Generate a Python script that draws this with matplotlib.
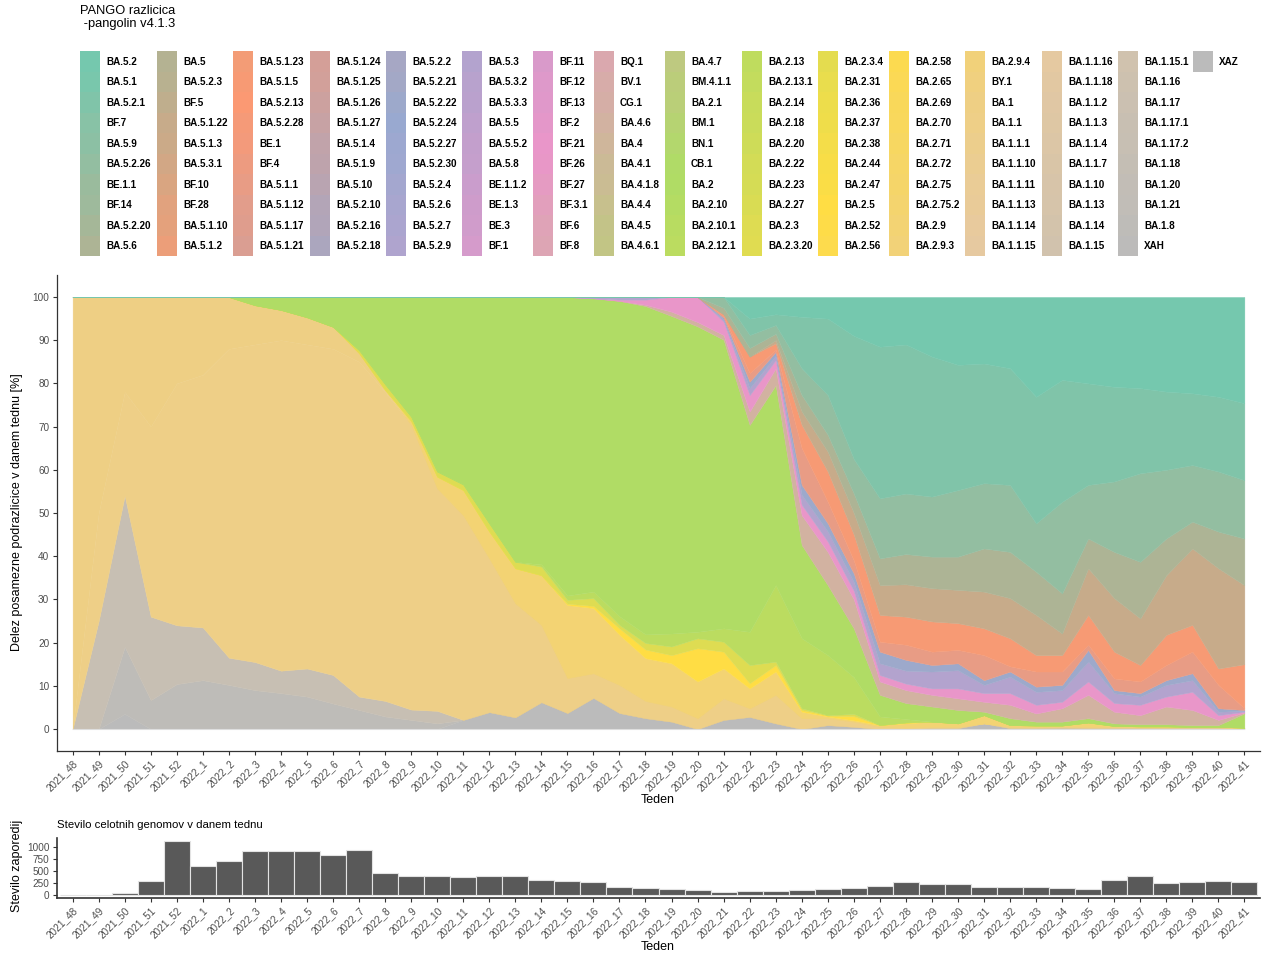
import numpy as np
import matplotlib
matplotlib.use("Agg")
import matplotlib.pyplot as plt
from matplotlib.colors import LinearSegmentedColormap, to_rgb
from matplotlib.patches import Rectangle

plt.rcParams['font.family'] = ['Liberation Sans', 'DejaVu Sans']

W, H = 1263, 956

# tedni (x os)
tedni = [f"2021_{t}" for t in range(48, 53)] + [f"2022_{t}" for t in range(1, 42)]

# stevilo celotnih genomov na teden
stevilo_genomov = [2, 4, 48, 283, 1133, 601, 711, 925, 925, 925,
                   836, 946, 463, 387, 387, 373, 387, 387, 318, 283,
                   262, 173, 138, 131, 97, 62, 76, 76, 97, 117,
                   152, 193, 262, 221, 221, 159, 159, 173, 152, 124,
                   318, 387, 242, 262, 297, 262]

# vrstni red legende (prvi je na vrhu sklada)
razlicice = [
    "BA.5.2", "BA.5.1", "BA.5.2.1", "BF.7", "BA.5.9", "BA.5.2.26", "BE.1.1", "BF.14", "BA.5.2.20", "BA.5.6",
    "BA.5", "BA.5.2.3", "BF.5", "BA.5.1.22", "BA.5.1.3", "BA.5.3.1", "BF.10", "BF.28", "BA.5.1.10", "BA.5.1.2",
    "BA.5.1.23", "BA.5.1.5", "BA.5.2.13", "BA.5.2.28", "BE.1", "BF.4", "BA.5.1.1", "BA.5.1.12", "BA.5.1.17", "BA.5.1.21",
    "BA.5.1.24", "BA.5.1.25", "BA.5.1.26", "BA.5.1.27", "BA.5.1.4", "BA.5.1.9", "BA.5.10", "BA.5.2.10", "BA.5.2.16", "BA.5.2.18",
    "BA.5.2.2", "BA.5.2.21", "BA.5.2.22", "BA.5.2.24", "BA.5.2.27", "BA.5.2.30", "BA.5.2.4", "BA.5.2.6", "BA.5.2.7", "BA.5.2.9",
    "BA.5.3", "BA.5.3.2", "BA.5.3.3", "BA.5.5", "BA.5.5.2", "BA.5.8", "BE.1.1.2", "BE.1.3", "BE.3", "BF.1",
    "BF.11", "BF.12", "BF.13", "BF.2", "BF.21", "BF.26", "BF.27", "BF.3.1", "BF.6", "BF.8",
    "BQ.1", "BV.1", "CG.1", "BA.4.6", "BA.4", "BA.4.1", "BA.4.1.8", "BA.4.4", "BA.4.5", "BA.4.6.1",
    "BA.4.7", "BM.4.1.1", "BA.2.1", "BM.1", "BN.1", "CB.1", "BA.2", "BA.2.10", "BA.2.10.1", "BA.2.12.1",
    "BA.2.13", "BA.2.13.1", "BA.2.14", "BA.2.18", "BA.2.20", "BA.2.22", "BA.2.23", "BA.2.27", "BA.2.3", "BA.2.3.20",
    "BA.2.3.4", "BA.2.31", "BA.2.36", "BA.2.37", "BA.2.38", "BA.2.44", "BA.2.47", "BA.2.5", "BA.2.52", "BA.2.56",
    "BA.2.58", "BA.2.65", "BA.2.69", "BA.2.70", "BA.2.71", "BA.2.72", "BA.2.75", "BA.2.75.2", "BA.2.9", "BA.2.9.3",
    "BA.2.9.4", "BY.1", "BA.1", "BA.1.1", "BA.1.1.1", "BA.1.1.10", "BA.1.1.11", "BA.1.1.13", "BA.1.1.14", "BA.1.1.15",
    "BA.1.1.16", "BA.1.1.18", "BA.1.1.2", "BA.1.1.3", "BA.1.1.4", "BA.1.1.7", "BA.1.10", "BA.1.13", "BA.1.14", "BA.1.15",
    "BA.1.15.1", "BA.1.16", "BA.1.17", "BA.1.17.1", "BA.1.17.2", "BA.1.18", "BA.1.20", "BA.1.21", "BA.1.8", "XAH",
    "XAZ",
]

# delezi [%] vidnih podrazlicic po tednih (ostale ~0)
ba_5_2 = [0] * 26 + [5, 4, 4.6, 5, 9, 11.5, 11, 13.8, 15.7, 15.4, 16.5, 23.1, 19.2, 20,
                     20.8, 21.1, 21.9, 22.3, 23.1, 24.6]
ba_5_2_1 = [0] * 26 + [3.8, 2.5, 11.9, 17.7, 28.5, 35.1, 34.5, 32.4, 29, 27.7, 27, 29.3, 28.2, 23.5,
                       21.9, 19.7, 18.1, 16.6, 17.3, 17.8]
ba_5_2_26 = [0] * 25 + [2.5, 3, 2, 6.2, 9.2, 8, 13.9, 14, 13.9, 15.4, 15.1, 15.5, 11.2, 21.2, 12.4,
                        16.3, 20.5, 15.9, 13.1, 13.9, 13.5]
ba_5_6 = [0] * 25 + [1.5, 2, 1.5, 3.8, 3.9, 4.5, 6.2, 7, 7.3, 7.7, 10, 10.7, 10, 9.3, 6.9,
                     10.7, 13.1, 8.5, 6.2, 8.5, 10.8]
ba_5_1_22 = [0] * 27 + [0.7, 3.1, 4.6, 5, 6.9, 7.5, 7.7, 7.7, 8.5, 9.3, 9.3, 5, 10.8,
                        12.4, 10.8, 13.8, 17.7, 23.2, 18.3]
ba_5_1_5 = [0] * 25 + [0.4, 3.8, 1.5, 5.4, 7, 6, 6.2, 6.5, 7, 6.2, 6.2, 6.5, 3.8, 3.8, 6.9,
                       6.2, 3.8, 7, 6.2, 3.8, 10.2]
ba_5_1_1 = [0] * 25 + [0.4, 2, 0.5, 8.5, 5, 3, 2.3, 3.5, 3.1, 3.1, 5.8, 1.2, 3.5, 3.1, 1.2,
                       2.7, 2.7, 3.5, 5, 5.4, 0.4]
ba_5_2_22 = [0] * 25 + [0.4, 1.5, 0.9, 2.3, 1.9, 2, 2.7, 2.5, 1.5, 1.6, 1.1, 1.2, 1.2, 1.2, 2.7,
                        0.7, 0.8, 1.1, 1.6, 0.8, 0.2]
ba_5_3 = [0] * 20 + [0.3, 0.6, 0.6, 0, 0, 0.5, 1.6, 1, 2.3, 2.3, 2, 2.7, 3, 3.9, 4.2, 1.9, 3.8, 3, 2.7, 4.6,
                     2.3, 1.9, 2.7, 2.7, 0.8, 0.2]
bf_21 = [0] * 21 + [0.3, 1.2, 3.4, 5.8, 3.1, 3.8, 1.9, 2.4, 2.4, 2, 1.5, 1.5, 1.5, 2.3, 2, 2.7, 2, 1.5, 3.1,
                    2, 2.4, 2.3, 4.2, 1.1, 0.2]
ba_4_6 = [0] * 22 + [0.3, 1, 1, 1.1, 3.1, 3.9, 6.9, 7.7, 6.7, 3.1, 3, 2.7, 2.7, 2.3, 3.1, 1.9, 3.1, 5.4,
                     2.7, 2.1, 4.1, 3.5, 1.2, 0.2]
ba_2 = [0, 0, 0, 0, 0, 0, 0, 1.9, 3, 4.7,
        6.9, 12.3, 20.2, 27.7, 40.4, 43.4, 52.4, 61.3, 61.9, 69.1,
        67.9, 73, 76, 73.5, 70.7, 66.8, 47.9, 46.3, 21.6, 16.2,
        11.3, 5, 3.7, 3.5, 3.1, 0.8, 1.6, 0.9, 0.9, 1.0,
        0.6, 0.5, 0.5, 0.4, 0.4, 3.3]
ba_2_12_1 = [0] * 18 + [0.5, 1, 1.5, 2, 2, 3, 1.5, 3.1, 7.7, 17.7, 16.2, 13.9, 8.5, 2, 0.8] + [0] * 13
ba_2_3 = [0] * 11 + [0.7, 1.3, 1, 1.2, 1.3, 1.9, 1.5, 2, 0.9, 1.8, 0.8, 1.5, 2, 2.3, 2.3, 4.2, 0.8,
                     0.4, 0.1, 0.5] + [0] * 15
ba_2_5 = [0] * 19 + [0.3, 0.5, 1.5, 2, 1.9, 7.7, 3.9, 1.2, 1.5, 0.4, 0.2, 1, 0, 0.2] + [0] * 13
ba_2_9 = [0] * 13 + [0.9, 2.7, 5.8, 6.2, 8.1, 11.5, 16.9,
                     15.1, 11.6, 9.9, 10, 8.5, 6.9, 4.6, 5.4, 1.5, 0.4,
                     0.3, 0.4, 1.0, 1.2, 0.8, 1.9, 0.4, 0.3, 0.2, 1.0,
                     0.2, 0.2, 0.2, 0.1, 0.1, 0.1]
ba_1 = [100, 50, 22, 30, 20, 18, 12, 9.1, 7, 6.3, 5.1, 2, 0.5] + [0] * 33
ba_1_1 = [0, 25, 24, 44, 56, 58.5, 71.5, 73.5, 76.5, 75,
          75.5, 77.5, 71.5, 65.9, 51.5, 47.4, 35.6, 26.4, 17.9, 8.1,
          5.7, 6.5, 4, 3.5, 2.5, 5, 2, 6.6, 2.5, 1.6,
          1.2, 0.5, 0.3, 0.3, 0.3, 0, 0.3, 0.3, 0.3, 0.3,
          0.3, 0.2, 0.2, 0.2, 0.2, 0.1]
ba_1_17_2 = [0, 25, 35, 19.3, 13.6, 12.2, 6.3, 6.5, 5.2, 6.5, 6.6, 3.1, 3.6, 2.4, 2.9] + [0] * 31
ba_1_8 = [0, 0, 15.5, 6.7, 10.4, 11.3, 10.2, 9, 8.3, 7.5, 5.9, 4.4, 2.9, 2.1, 1.3] + [0] * 31
xaz = [0, 0, 3.5, 0, 0, 0, 0, 0, 0, 0,
       0, 0, 0, 0, 0, 2.1, 3.9, 2.7, 6.2, 3.7,
       7.2, 3.7, 2.5, 1.7, 0, 2.1, 2.8, 1.3, 0, 0.9,
       0.5, 0, 0, 0.2, 0.2, 1.3, 0.2, 0.2, 0.3, 0.2,
       0.2, 0.2, 0.2, 0.2, 0.2, 0.1]

delezi = {
    "BA.5.2": ba_5_2, "BA.5.2.1": ba_5_2_1, "BA.5.2.26": ba_5_2_26, "BA.5.6": ba_5_6,
    "BA.5.1.22": ba_5_1_22, "BA.5.1.5": ba_5_1_5, "BA.5.1.1": ba_5_1_1,
    "BA.5.2.22": ba_5_2_22, "BA.5.3": ba_5_3, "BF.21": bf_21, "BA.4.6": ba_4_6,
    "BA.2": ba_2, "BA.2.12.1": ba_2_12_1, "BA.2.3": ba_2_3, "BA.2.5": ba_2_5,
    "BA.2.9": ba_2_9, "BA.1": ba_1, "BA.1.1": ba_1_1, "BA.1.17.2": ba_1_17_2,
    "BA.1.8": ba_1_8, "XAZ": xaz,
}

# barve: Set2 razpotegnjen cez vse ravni, alpha 0.9 na belem
set2 = ["#66C2A5", "#FC8D62", "#8DA0CB", "#E78AC3", "#A6D854", "#FFD92F", "#E5C494", "#B3B3B3"]
ramp = LinearSegmentedColormap.from_list("set2_ramp", set2)
n = len(razlicice)


def zmehcaj(c, a=0.9):
    r, g, b = to_rgb(c)
    return (a * r + 1 - a, a * g + 1 - a, a * b + 1 - a)


barve = {ime: zmehcaj(ramp(k / (n - 1))[:3]) for k, ime in enumerate(razlicice)}

fig = plt.figure(figsize=(W / 100, H / 100), dpi=100)

# ---- legenda ----
lax = fig.add_axes([0, 0, 1, 1])
lax.set_xlim(0, W)
lax.set_ylim(H, 0)
lax.axis("off")
lax.text(80, 11, "PANGO razlicica", fontsize=9.3, va="center", ha="left")
lax.text(80, 24, " -pangolin v4.1.3", fontsize=9.3, va="center", ha="left")
stolpci_x = [80, 157, 233, 310, 386, 462, 533, 594, 665, 742, 818, 889, 965, 1042, 1118, 1193]
for k, ime in enumerate(razlicice):
    kx = stolpci_x[k // 10]
    ky = 51 + (k % 10) * 20.5
    lax.add_patch(Rectangle((kx, ky), 20, 20.5, facecolor=barve[ime], edgecolor="none"))
    lax.text(kx + 26, ky + 10.5, ime, fontsize=7.1, fontweight="bold",
             va="center", ha="left")

# ---- glavni graf ----
x = np.arange(len(tedni))
ax = fig.add_axes([57 / W, 1 - 750.6 / H, 1203 / W, 475.2 / H])
vrste = [ime for ime in reversed(razlicice) if ime in delezi]
mat = np.array([delezi[ime] for ime in vrste], dtype=float)
mat = mat / mat.sum(axis=0) * 100
spodaj = np.zeros(len(x))
for ime, vr in zip(vrste, mat):
    ax.fill_between(x, spodaj, spodaj + vr, facecolor=barve[ime],
                    edgecolor=barve[ime], linewidth=0.3)
    spodaj = spodaj + vr
ax.plot([x[0], x[-1]], [0, 0], color="#dedede", lw=0.8)

ax.set_xlim(-0.6, len(tedni) - 0.4)
ax.set_ylim(-5, 105)
ax.set_yticks(range(0, 101, 10))
ax.set_xticks(x)
ax.set_xticklabels(tedni, rotation=45, ha="right", rotation_mode="anchor")
for s in ["top", "right"]:
    ax.spines[s].set_visible(False)
for s in ["left", "bottom"]:
    ax.spines[s].set_color("#333333")
    ax.spines[s].set_linewidth(0.9)
ax.tick_params(length=3, width=0.8, color="#333333", labelsize=7.2,
               labelcolor="#4d4d4d", pad=2.5)

fig.text(658 / W, 1 - 800 / H, "Teden", fontsize=9, ha="center", va="center")
fig.text(17 / W, 1 - 512 / H, "Delez posamezne podrazlicice v danem tednu [%]",
         fontsize=9, rotation=90, ha="center", va="center")

# ---- stevilo genomov ----
bx = fig.add_axes([57 / W, 1 - 897.7 / H, 1203 / W, 59.8 / H])
bx.bar(x, stevilo_genomov, width=1.0, color="#595959", edgecolor="#e3e3e3", linewidth=0.8)
vrh = max(stevilo_genomov)
bx.set_ylim(-0.05 * vrh, 1.05 * vrh)
bx.set_xlim(-0.6, len(tedni) - 0.4)
bx.set_yticks([0, 250, 500, 750, 1000])
bx.set_xticks(x)
bx.set_xticklabels(tedni, rotation=45, ha="right", rotation_mode="anchor")
for s in ["top", "right"]:
    bx.spines[s].set_visible(False)
for s in ["left", "bottom"]:
    bx.spines[s].set_color("#333333")
    bx.spines[s].set_linewidth(1.2)
bx.tick_params(length=3, width=0.8, color="#333333", labelsize=7.2,
               labelcolor="#4d4d4d", pad=2.5)

fig.text(57 / W, 1 - 825 / H, "Stevilo celotnih genomov v danem tednu",
         fontsize=8.2, ha="left", va="center")
fig.text(17 / W, 1 - 866 / H, "Stevilo zaporedij", fontsize=9, rotation=90,
         ha="center", va="center")
fig.text(658 / W, 1 - 947 / H, "Teden", fontsize=9, ha="center", va="center")

fig.savefig("out.png", dpi=100)
